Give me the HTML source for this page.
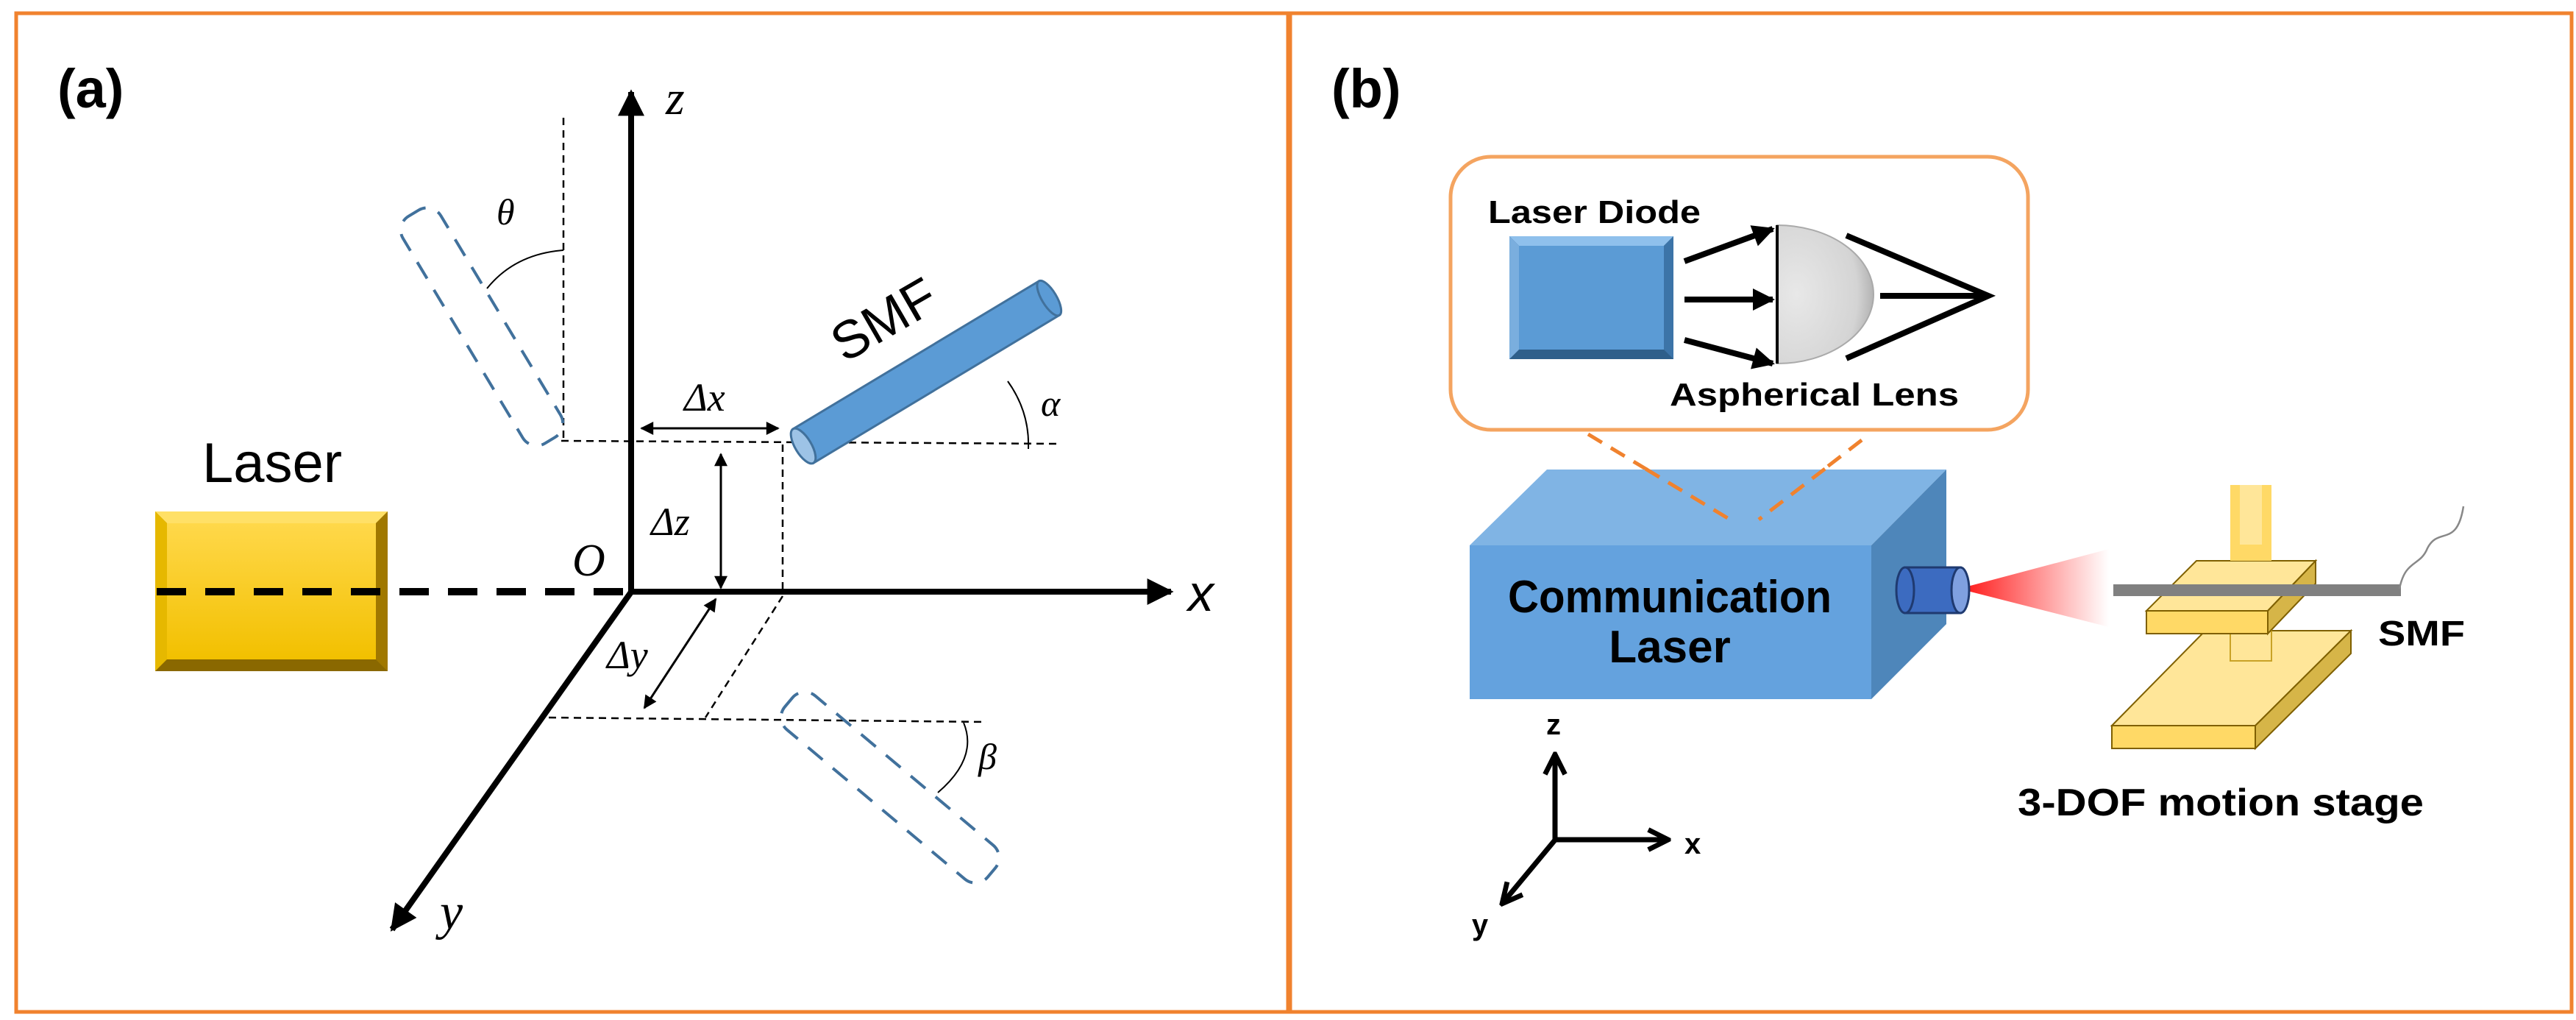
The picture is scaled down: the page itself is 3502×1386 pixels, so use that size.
<!DOCTYPE html>
<html><head><meta charset="utf-8"><style>
html,body{margin:0;padding:0;background:#fff}
svg{display:block}
text{font-family:"Liberation Sans",Arial,sans-serif}
.it{font-family:"Liberation Serif",serif;font-style:italic}
</style></head><body>
<svg width="3502" height="1386" viewBox="0 0 3502 1386" xmlns="http://www.w3.org/2000/svg">
<defs>
<marker id="big" viewBox="0 0 10 10" refX="9" refY="5" markerWidth="44" markerHeight="36" orient="auto" markerUnits="userSpaceOnUse"><path d="M0,0 L10,5 L0,10 z" fill="#000"/></marker>
<marker id="sm" viewBox="0 0 10 10" refX="9" refY="5" markerWidth="22" markerHeight="18" orient="auto-start-reverse" markerUnits="userSpaceOnUse"><path d="M0,0 L10,5 L0,10 z" fill="#000"/></marker>
<marker id="mid" viewBox="0 0 10 10" refX="9" refY="5" markerWidth="34" markerHeight="30" orient="auto" markerUnits="userSpaceOnUse"><path d="M0,0 L10,5 L0,10 z" fill="#000"/></marker>
<marker id="open" viewBox="0 0 10 10" refX="9" refY="5" markerWidth="34" markerHeight="34" orient="auto" markerUnits="userSpaceOnUse"><path d="M1,1 L9,5 L1,9" fill="none" stroke="#000" stroke-width="2"/></marker>
<linearGradient id="gold" x1="0" y1="0" x2="0" y2="1"><stop offset="0" stop-color="#FFD84A"/><stop offset="1" stop-color="#F2C000"/></linearGradient>
<linearGradient id="red" x1="0" y1="0" x2="1" y2="0"><stop offset="0" stop-color="#FF1010"/><stop offset="1" stop-color="#FF2020" stop-opacity="0"/></linearGradient>
<radialGradient id="lens" cx="0.2" cy="0.5" r="0.9"><stop offset="0" stop-color="#e8e8e8"/><stop offset="0.7" stop-color="#d4d4d4"/><stop offset="1" stop-color="#a0a0a0"/></radialGradient>
</defs>

<rect x="22" y="18" width="1729" height="1357" fill="none" stroke="#F0822E" stroke-width="5"/>
<rect x="1754" y="18" width="1742" height="1357" fill="none" stroke="#F0822E" stroke-width="5"/>

<text x="78" y="146" font-size="74" font-weight="bold">(a)</text>

<rect x="211" y="695" width="316" height="217" fill="#B38A00"/>
<polygon points="211,695 527,695 511,711 227,711" fill="#FFE066"/>
<polygon points="211,695 227,711 227,896 211,912" fill="#E6B800"/>
<polygon points="527,695 511,711 511,896 527,912" fill="#A07800"/>
<polygon points="211,912 227,896 511,896 527,912" fill="#8A6800"/>
<rect x="227" y="711" width="284" height="185" fill="url(#gold)"/>
<text x="370" y="655" font-size="76" text-anchor="middle">Laser</text>

<line x1="213" y1="804" x2="858" y2="804" stroke="#000" stroke-width="10" stroke-dasharray="40,26"/>

<line x1="858" y1="806" x2="858" y2="125" stroke="#000" stroke-width="8" marker-end="url(#big)"/>
<line x1="856" y1="804" x2="1592" y2="804" stroke="#000" stroke-width="8" marker-end="url(#big)"/>
<line x1="859" y1="803" x2="533" y2="1263" stroke="#000" stroke-width="8" marker-end="url(#big)"/>
<text class="it" x="905" y="155" font-size="66">z</text>
<text x="1615" y="830" font-size="70" font-style="italic">x</text>
<text class="it" x="598" y="1262" font-size="70">y</text>
<text class="it" x="778" y="782" font-size="62">O</text>

<g stroke="#000" stroke-width="2.5" stroke-dasharray="10,7" fill="none">
<line x1="766" y1="160" x2="766" y2="599"/>
<line x1="763" y1="599" x2="1436" y2="603"/>
<line x1="1064" y1="604" x2="1064" y2="804"/>
<line x1="1064" y1="810" x2="959" y2="975"/>
<line x1="746" y1="975" x2="1341" y2="981"/>
</g>

<g stroke="#000" stroke-width="2" fill="none">
<path d="M766,340 Q700,345 662,392"/>
<path d="M1370,518 Q1400,560 1398,610"/>
<path d="M1310,982 Q1330,1030 1275,1077"/>
</g>
<text class="it" x="675" y="305" font-size="50">θ</text>
<text class="it" x="1415" y="565" font-size="50">α</text>
<text class="it" x="1330" y="1045" font-size="50">β</text>

<line x1="872" y1="582" x2="1058" y2="582" stroke="#000" stroke-width="3" marker-start="url(#sm)" marker-end="url(#sm)"/>
<text class="it" x="930" y="558" font-size="54">Δx</text>
<line x1="980" y1="617" x2="980" y2="799" stroke="#000" stroke-width="3" marker-start="url(#sm)" marker-end="url(#sm)"/>
<text class="it" x="885" y="727" font-size="54">Δz</text>
<line x1="973" y1="814" x2="876" y2="962" stroke="#000" stroke-width="3" marker-start="url(#sm)" marker-end="url(#sm)"/>
<text class="it" x="825" y="908" font-size="54">Δy</text>

<g fill="none" stroke="#41719C" stroke-width="4" stroke-dasharray="26,18">
<rect x="-30" y="-180" width="60" height="360" rx="22" transform="translate(655,444) rotate(-31)"/>
<rect x="-30" y="-180" width="60" height="360" rx="22" transform="translate(1210,1070) rotate(-50)"/>
</g>

<g transform="translate(1092,606) rotate(-31)">
<rect x="0" y="-27" width="390" height="54" fill="#5B9BD5" stroke="#41719C" stroke-width="3"/>
<ellipse cx="390" cy="0" rx="10" ry="27" fill="#5B9BD5" stroke="#41719C" stroke-width="3"/>
<ellipse cx="0" cy="0" rx="11" ry="27" fill="#9DC3E6" stroke="#41719C" stroke-width="3"/>
</g>
<text x="1205" y="458" font-size="72" text-anchor="middle" transform="rotate(-30 1205 440)">SMF</text>

<text x="1810" y="146" font-size="74" font-weight="bold">(b)</text>

<rect x="1972" y="213" width="785" height="371" rx="55" fill="#fff" stroke="#F4A460" stroke-width="5"/>
<text x="2023" y="303" font-size="44" font-weight="bold" textLength="289" lengthAdjust="spacingAndGlyphs">Laser Diode</text>
<rect x="2052" y="321" width="223" height="167" fill="#2E5F8A"/>
<polygon points="2052,321 2275,321 2262,334 2065,334" fill="#8FC0EC"/>
<polygon points="2052,321 2065,334 2065,475 2052,488" fill="#7AAEDE"/>
<polygon points="2275,321 2262,334 2262,475 2275,488" fill="#3C74A8"/>
<rect x="2065" y="334" width="197" height="141" fill="#5B9BD5"/>
<g stroke="#000" stroke-width="8">
<line x1="2290" y1="355" x2="2410" y2="311" marker-end="url(#mid)"/>
<line x1="2290" y1="407" x2="2410" y2="407" marker-end="url(#mid)"/>
<line x1="2290" y1="462" x2="2410" y2="494" marker-end="url(#mid)"/>
</g>
<path d="M2416,306 A131,94 0 0 1 2416,494 Z" fill="url(#lens)" stroke="#aaa" stroke-width="2"/>
<line x1="2416" y1="306" x2="2416" y2="494" stroke="#000" stroke-width="4"/>
<g stroke="#000" stroke-width="8" fill="none">
<polyline points="2510,320 2703,402 2510,487"/>
<line x1="2556" y1="402" x2="2703" y2="402"/>
</g>
<text x="2270" y="551" font-size="44" font-weight="bold" textLength="393" lengthAdjust="spacingAndGlyphs">Aspherical Lens</text>

<g stroke="#F0822E" stroke-width="5" stroke-dasharray="22,14">
<line x1="2159" y1="590" x2="2352" y2="706"/>
<line x1="2531" y1="598" x2="2391" y2="706"/>
</g>

<polygon points="1998,741 2103,638 2646,638 2544,741" fill="#80B4E4"/>
<polygon points="2544,741 2646,638 2646,848 2544,950" fill="#4E86BA"/>
<rect x="1998" y="741" width="546" height="209" fill="#64A2DE"/>
<g stroke="#F0822E" stroke-width="5" stroke-dasharray="22,14">
<line x1="2237" y1="637" x2="2352" y2="706"/>
<line x1="2481" y1="637" x2="2391" y2="706"/>
</g>
<text x="2270" y="832" font-size="62" font-weight="bold" text-anchor="middle" textLength="440" lengthAdjust="spacingAndGlyphs">Communication</text>
<text x="2270" y="900" font-size="62" font-weight="bold" text-anchor="middle">Laser</text>

<polygon points="2663,800 2867,746 2867,852" fill="url(#red)"/>
<rect x="2590" y="771" width="75" height="62" fill="#3C6BC0" stroke="#1F3A70" stroke-width="3"/>
<ellipse cx="2590" cy="802" rx="12" ry="31" fill="#3C6BC0" stroke="#1F3A70" stroke-width="3"/>
<ellipse cx="2665" cy="802" rx="12" ry="31" fill="#7FA0E0" stroke="#1F3A70" stroke-width="3"/>

<rect x="3032" y="659" width="56" height="135" fill="#FFD966"/>
<rect x="3045" y="659" width="30" height="135" fill="#FFE699"/>
<polygon points="2871,986 2998,857 3196,857 3066,986" fill="#FFE699" stroke="#7F6000" stroke-width="2"/>
<polygon points="2871,986 3066,986 3066,1017 2871,1017" fill="#FFD966" stroke="#7F6000" stroke-width="2"/>
<polygon points="3066,986 3196,857 3196,888 3066,1017" fill="#D6B548" stroke="#7F6000" stroke-width="2"/>
<rect x="3032" y="830" width="56" height="68" fill="#FFE699" stroke="#C9A227" stroke-width="2"/>
<polygon points="2918,830 2986,762 3148,762 3083,830" fill="#FFE699" stroke="#7F6000" stroke-width="2"/>
<polygon points="2918,830 3083,830 3083,861 2918,861" fill="#FFD966" stroke="#7F6000" stroke-width="2"/>
<polygon points="3083,830 3148,762 3148,793 3083,861" fill="#D6B548" stroke="#7F6000" stroke-width="2"/>
<rect x="3032" y="740" width="56" height="22" fill="#FFD966"/>
<rect x="2873" y="794" width="391" height="16" fill="#808080"/>
<path d="M3262,800 C3270,760 3290,770 3300,745 C3315,715 3340,745 3349,688" fill="none" stroke="#888" stroke-width="2.5"/>
<text x="3233" y="877" font-size="48" font-weight="bold" textLength="118" lengthAdjust="spacingAndGlyphs">SMF</text>
<text x="2743" y="1108" font-size="52" font-weight="bold" textLength="552" lengthAdjust="spacingAndGlyphs">3-DOF motion stage</text>

<g stroke="#000" stroke-width="7" fill="none">
<line x1="2114" y1="1144" x2="2114" y2="1025" marker-end="url(#open)"/>
<line x1="2111" y1="1141" x2="2268" y2="1141" marker-end="url(#open)"/>
<line x1="2116" y1="1139" x2="2042" y2="1228" marker-end="url(#open)"/>
</g>
<text x="2112" y="998" font-size="40" font-weight="bold" text-anchor="middle">z</text>
<text x="2290" y="1160" font-size="40" font-weight="bold">x</text>
<text x="2012" y="1270" font-size="40" font-weight="bold" text-anchor="middle">y</text>
</svg>
</body></html>
